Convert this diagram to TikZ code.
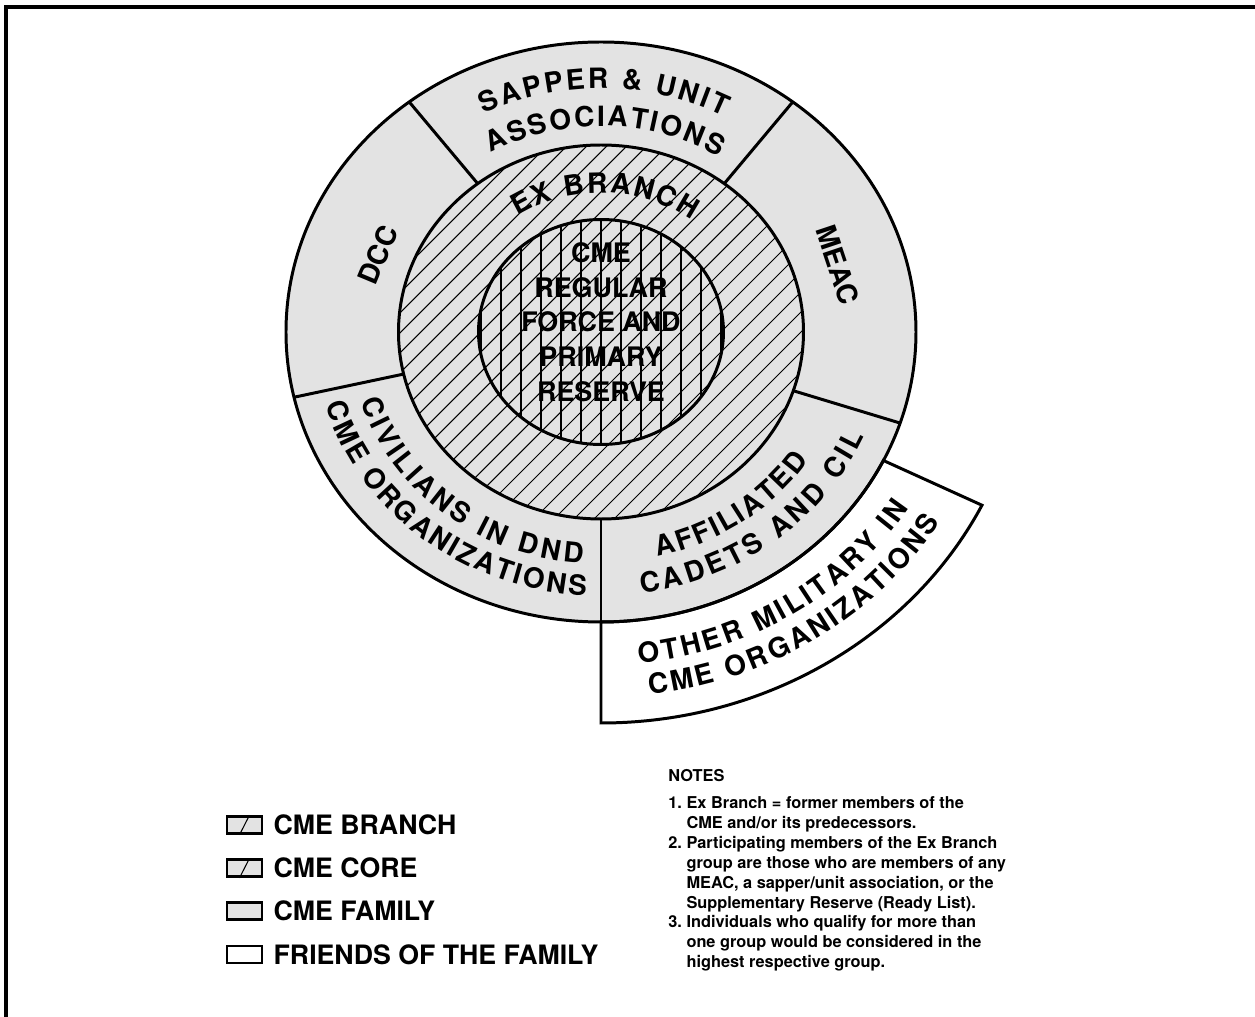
\documentclass[tikz,border=0pt]{standalone}
\usepackage{fontspec}
\setmainfont{TeX Gyre Heros}
\usetikzlibrary{positioning,decorations.text}
\newcommand{\ringfont}{\bfseries\fontsize{15.9}{19}\selectfont}
\newcommand{\corefont}{\bfseries\fontsize{15.3}{19.8}\selectfont}
\newcommand{\legfont}{\bfseries\fontsize{15.2}{17}\selectfont}
\newcommand{\notefont}{\bfseries\fontsize{9.3}{11.34}\selectfont}

\begin{document}
\begin{tikzpicture}[x=0.02cm, y=0.02cm,
    ring/.style={draw, line width=1.7pt},
    hatch/.style={line width=0.6pt},
    family/.style={fill=black!11},
    arctext/.style={decorate, decoration={text along path, text align={fit to path}, text={|\ringfont|#1}}},
    legbox/.style={draw, line width=1.5pt, minimum width=0.7cm, minimum height=0.34cm, inner sep=0pt},
    legtext/.style={font=\legfont, inner sep=0pt, anchor=west}
  ]
  \useasboundingbox (-601,-685) rectangle (654,332);
  \draw[line width=2pt] (-595,-685) -- (-595,325) -- (654,325);

  % rings
  \fill[family] (0,0) ellipse [x radius=315, y radius=290];
  \path[ring, fill=white] (270:315 and 290) -- (270:425 and 391)
    arc[start angle=270, end angle=333.7, x radius=425, y radius=391]
    -- (333.7:315 and 290)
    arc[start angle=333.7, end angle=270, x radius=315, y radius=290] -- cycle;
  \begin{scope}
    \clip (0,0) ellipse [x radius=202.5, y radius=187];
    \foreach \k in {-15,...,15}
      \draw[hatch] (20*\k-300,-300) -- (20*\k+300,300);
    \clip (0,0) ellipse [x radius=122.5, y radius=112.5];
    \foreach \k in {-6,...,6}
      \draw[hatch] (20*\k,-120) -- (20*\k,120);
  \end{scope}
  \draw[ring] (0,0) ellipse [x radius=315, y radius=290];
  \draw[ring] (0,0) ellipse [x radius=202.5, y radius=187];
  \draw[ring] (0,0) ellipse [x radius=122.5, y radius=112.5];
  \foreach \a in {52.5,127.5,193,270,341.7}
    \draw[ring] (\a:202.5 and 187) -- (\a:315 and 290);

  % ring texts
  \path[arctext={SAPPER {\&} UNIT}] (116.3:264.6 and 243.6)
    arc[start angle=116.3, end angle=62.4, x radius=264.6, y radius=243.6];
  \path[arctext={ASSOCIATIONS}] (119.5:223.7 and 205.9)
    arc[start angle=119.5, end angle=58.3, x radius=223.7, y radius=205.9];
  \path[arctext={EX BRANCH}] (123.5:151.2 and 139.2)
    arc[start angle=123.5, end angle=53.2, x radius=151.2, y radius=139.2];
  \path[arctext={CIVILIANS IN DND}] (197.5:252 and 232)
    arc[start angle=197.5, end angle=265.8, x radius=252, y radius=232];
  \path[arctext={CME ORGANIZATIONS}] (196:286.7 and 263.9)
    arc[start angle=196, end angle=267, x radius=286.7, y radius=263.9];
  \path[arctext={AFFILIATED}] (283:250.4 and 230.6)
    arc[start angle=283, end angle=326, x radius=250.4, y radius=230.6];
  \path[arctext={CADETS AND CIL}] (278.1:286.7 and 263.9)
    arc[start angle=278.1, end angle=336.6, x radius=286.7, y radius=263.9];
  \path[arctext={OTHER MILITARY IN}] (276:362.3 and 333.5)
    arc[start angle=276, end angle=328.2, x radius=362.3, y radius=333.5];
  \path[arctext={CME ORGANIZATIONS}] (277:396.9 and 365.4)
    arc[start angle=277, end angle=328.7, x radius=396.9, y radius=365.4];
  \node[font=\ringfont, rotate=67.4, inner sep=0pt] (dcc) at (159.4:238 and 219) {DCC};
  \node[font=\ringfont, rotate=-71.5, inner sep=0pt] (meac) at (17.1:248 and 228) {MEAC};
  \node[font=\corefont, align=center, inner sep=0pt] (core) at (0,10)
    {CME\\REGULAR\\FORCE AND\\PRIMARY\\RESERVE};

  % legend
  \node[legbox, fill=black!11] (bbranch) at (-356.5,-493) {};
  \node[legbox, fill=black!11, below=0.47cm of bbranch] (bcore) {};
  \node[legbox, fill=black!11, below=0.47cm of bcore] (bfamily) {};
  \node[legbox, below=0.47cm of bfamily] (bfriends) {};
  \draw[hatch] ([xshift=-0.1cm]bbranch.south) -- ([xshift=0.1cm]bbranch.north);
  \draw[hatch] ([xshift=-0.1cm]bcore.south) -- ([xshift=0.1cm]bcore.north);
  \node[legtext, right=0.2cm of bbranch] (tbranch) {CME BRANCH};
  \node[legtext, right=0.2cm of bcore] (tcore) {CME CORE};
  \node[legtext, right=0.2cm of bfamily] (tfamily) {CME FAMILY};
  \node[legtext, right=0.2cm of bfriends] (tfriends) {FRIENDS OF THE FAMILY};

  \node[font=\notefont, align=left, anchor=north west, inner sep=0pt] (notes) at (67,-437)
    {NOTES\\[0.14cm]
     1.~Ex Branch = former members of the\\
     \hphantom{1.~}CME and/or its predecessors.\\
     2.~Participating members of the Ex Branch\\
     \hphantom{2.~}group are those who are members of any\\
     \hphantom{2.~}MEAC, a sapper/unit association, or the\\
     \hphantom{2.~}Supplementary Reserve (Ready List).\\
     3.~Individuals who qualify for more than\\
     \hphantom{3.~}one group would be considered in the\\
     \hphantom{3.~}highest respective group.};
\end{tikzpicture}
\end{document}
